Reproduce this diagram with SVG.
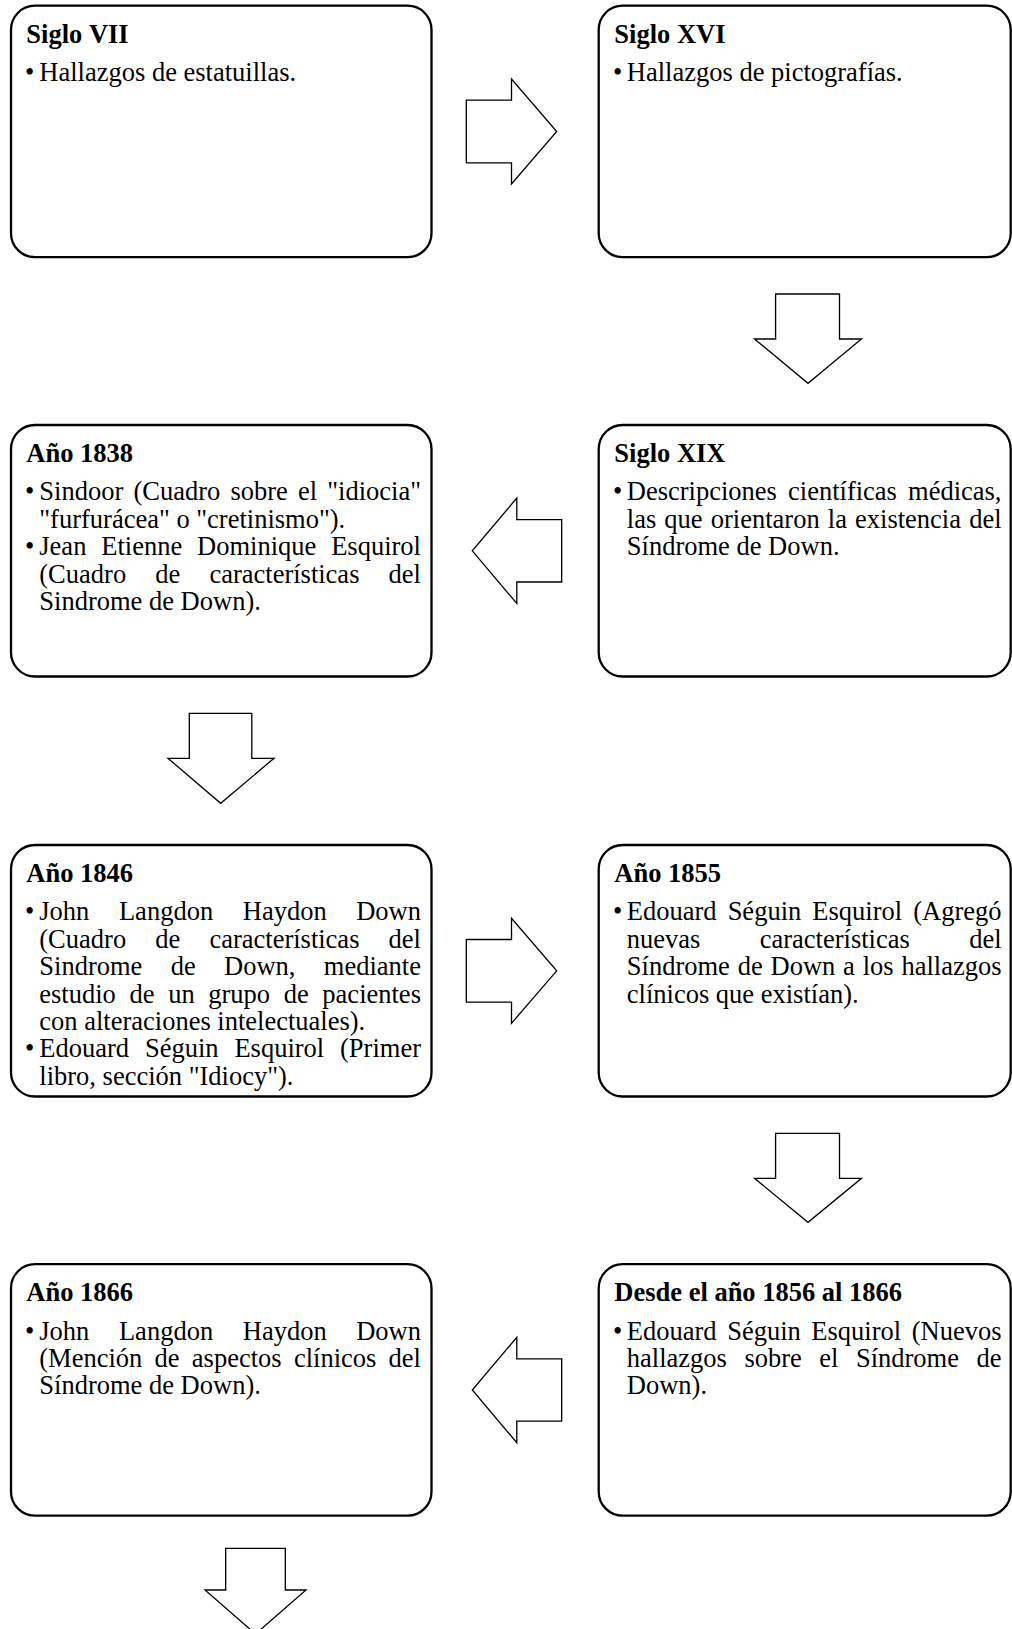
<svg xmlns="http://www.w3.org/2000/svg" width="1012" height="1629" viewBox="0 0 1012 1629">
<style>
  .box { fill: #ffffff; stroke: #000000; stroke-width: 2.3; }
  .arrow { fill: #ffffff; stroke: #000000; stroke-width: 1.3; stroke-linejoin: miter; }
  text { font-family: "Liberation Serif", "Times New Roman", serif; font-size: 26.5px; fill: #000000; font-kerning: none; }
  .title { font-weight: bold; }
</style>
<rect width="1012" height="1629" fill="#ffffff"/>

<g id="connectors">
  <polygon class="arrow" points="466.3,100.2 511.5,100.2 511.5,79 556.7,131.5 511.5,184 511.5,162.8 466.3,162.8"/>
  <polygon class="arrow" points="775.6,294 839.5,294 839.5,339 861.5,339 808,383.3 754.5,339 775.6,339"/>
  <polygon class="arrow" points="561.7,519.6 516.8,519.6 516.8,498.1 472.3,550.8 516.8,603.5 516.8,582 561.7,582"/>
  <polygon class="arrow" points="189.3,713.3 251.8,713.3 251.8,758.3 274,758.3 220.7,803.3 168,758.3 189.3,758.3"/>
  <polygon class="arrow" points="466.3,939.5 511.5,939.5 511.5,918.3 556.7,970.8 511.5,1023.3 511.5,1002.1 466.3,1002.1"/>
  <polygon class="arrow" points="775.6,1133.3 839.5,1133.3 839.5,1178.3 861.5,1178.3 808,1222.3 754.5,1178.3 775.6,1178.3"/>
  <polygon class="arrow" points="561.7,1358.8 516.8,1358.8 516.8,1337.3 472.3,1390 516.8,1442.7 516.8,1421.2 561.7,1421.2"/>
  <polygon class="arrow" points="225.7,1548.3 285.3,1548.3 285.3,1590 306,1590 255.5,1634 205,1590 225.7,1590"/>
</g>

<g id="node-siglo-vii">
  <rect class="box" x="11" y="5.7" width="420.5" height="251.5" rx="24" ry="24"/>
  <text class="title" x="26.3" y="42.7">Siglo VII</text>
  <text x="24.9" y="81">•</text>
  <text x="39.3" y="81">Hallazgos de estatuillas.</text>
</g>

<g id="node-siglo-xvi">
  <rect class="box" x="598.7" y="5.7" width="412" height="251.5" rx="24" ry="24"/>
  <text class="title" x="614.3" y="42.7">Siglo XVI</text>
  <text x="612.9" y="81">•</text>
  <text x="626.8" y="81">Hallazgos de pictografías.</text>
</g>

<g id="node-siglo-xix">
  <rect class="box" x="598.7" y="425" width="412" height="251.5" rx="24" ry="24"/>
  <text class="title" x="614.3" y="462">Siglo XIX</text>
  <text x="612.9" y="500.3">•</text>
  <text y="500.3"><tspan x="626.8">Descripciones</tspan><tspan x="788.02">científicas</tspan><tspan x="908.04">médicas,</tspan></text>
  <text y="527.7"><tspan x="626.8">las</tspan><tspan x="664.36">que</tspan><tspan x="710.75">orientaron</tspan><tspan x="827.79">la</tspan><tspan x="855.04">existencia</tspan><tspan x="969.13">del</tspan></text>
  <text x="626.8" y="555.1">Síndrome de Down.</text>
</g>

<g id="node-anio-1838">
  <rect class="box" x="11" y="425" width="420.5" height="251.5" rx="24" ry="24"/>
  <text class="title" x="26.3" y="462">Año 1838</text>
  <text x="24.9" y="500.3">•</text>
  <text y="500.3"><tspan x="39.3">Sindoor</tspan><tspan x="133.39">(Cuadro</tspan><tspan x="230.39">sobre</tspan><tspan x="297.95">el</tspan><tspan x="327.24">"idiocia"</tspan></text>
  <text x="39.3" y="527.7">"furfurácea" o "cretinismo").</text>
  <text x="24.9" y="555.1">•</text>
  <text y="555.1"><tspan x="39.3">Jean</tspan><tspan x="101.25">Etienne</tspan><tspan x="197.07">Dominique</tspan><tspan x="331.19">Esquirol</tspan></text>
  <text y="582.5"><tspan x="39.3">(Cuadro</tspan><tspan x="155.26">de</tspan><tspan x="209.4">características</tspan><tspan x="388.62">del</tspan></text>
  <text x="39.3" y="609.9">Sindrome de Down).</text>
</g>

<g id="node-anio-1846">
  <rect class="box" x="11" y="845" width="420.5" height="251.5" rx="24" ry="24"/>
  <text class="title" x="26.3" y="882">Año 1846</text>
  <text x="24.9" y="920.3">•</text>
  <text y="920.3"><tspan x="39.3">John</tspan><tspan x="118.95">Langdon</tspan><tspan x="242.75">Haydon</tspan><tspan x="356.24">Down</tspan></text>
  <text y="947.7"><tspan x="39.3">(Cuadro</tspan><tspan x="155.26">de</tspan><tspan x="209.4">características</tspan><tspan x="388.62">del</tspan></text>
  <text y="975.1"><tspan x="39.3">Sindrome</tspan><tspan x="170.72">de</tspan><tspan x="224.1">Down,</tspan><tspan x="323.85">mediante</tspan></text>
  <text y="1002.5"><tspan x="39.3">estudio</tspan><tspan x="129.49">de</tspan><tspan x="168.14">un</tspan><tspan x="208.27">grupo</tspan><tspan x="283.72">de</tspan><tspan x="322.37">pacientes</tspan></text>
  <text x="39.3" y="1029.9">con alteraciones intelectuales).</text>
  <text x="24.9" y="1057.3">•</text>
  <text y="1057.3"><tspan x="39.3">Edouard</tspan><tspan x="144.92">Séguin</tspan><tspan x="234.38">Esquirol</tspan><tspan x="340.03">(Primer</tspan></text>
  <text x="39.3" y="1084.7">libro, sección "Idiocy").</text>
</g>

<g id="node-anio-1855">
  <rect class="box" x="598.7" y="845" width="412" height="251.5" rx="24" ry="24"/>
  <text class="title" x="614.3" y="882">Año 1855</text>
  <text x="612.9" y="920.3">•</text>
  <text y="920.3"><tspan x="626.8">Edouard</tspan><tspan x="727.64">Séguin</tspan><tspan x="812.32">Esquirol</tspan><tspan x="913.19">(Agregó</tspan></text>
  <text y="947.7"><tspan x="626.8">nuevas</tspan><tspan x="759.71">características</tspan><tspan x="969.13">del</tspan></text>
  <text y="975.1"><tspan x="626.8">Síndrome</tspan><tspan x="737.67">de</tspan><tspan x="770.5">Down</tspan><tspan x="843.08">a</tspan><tspan x="862.66">los</tspan><tspan x="901.4">hallazgos</tspan></text>
  <text x="626.8" y="1002.5">clínicos que existían).</text>
</g>

<g id="node-anio-1866">
  <rect class="box" x="11" y="1264.2" width="420.5" height="251.5" rx="24" ry="24"/>
  <text class="title" x="26.3" y="1301.2">Año 1866</text>
  <text x="24.9" y="1339.5">•</text>
  <text y="1339.5"><tspan x="39.3">John</tspan><tspan x="118.95">Langdon</tspan><tspan x="242.75">Haydon</tspan><tspan x="356.24">Down</tspan></text>
  <text y="1366.9"><tspan x="39.3">(Mención</tspan><tspan x="154.59">de</tspan><tspan x="191.87">aspectos</tspan><tspan x="293.91">clínicos</tspan><tspan x="388.61">del</tspan></text>
  <text x="39.3" y="1394.3">Síndrome de Down).</text>
</g>

<g id="node-1856-1866">
  <rect class="box" x="598.7" y="1264.2" width="412" height="251.5" rx="24" ry="24"/>
  <text class="title" x="614.3" y="1301.2">Desde el año 1856 al 1866</text>
  <text x="612.9" y="1339.5">•</text>
  <text y="1339.5"><tspan x="626.8">Edouard</tspan><tspan x="727.15">Séguin</tspan><tspan x="811.34">Esquirol</tspan><tspan x="911.72">(Nuevos</tspan></text>
  <text y="1366.9"><tspan x="626.8">hallazgos</tspan><tspan x="744.39">sobre</tspan><tspan x="819.29">el</tspan><tspan x="855.92">Síndrome</tspan><tspan x="976.48">de</tspan></text>
  <text x="626.8" y="1394.3">Down).</text>
</g>
</svg>
